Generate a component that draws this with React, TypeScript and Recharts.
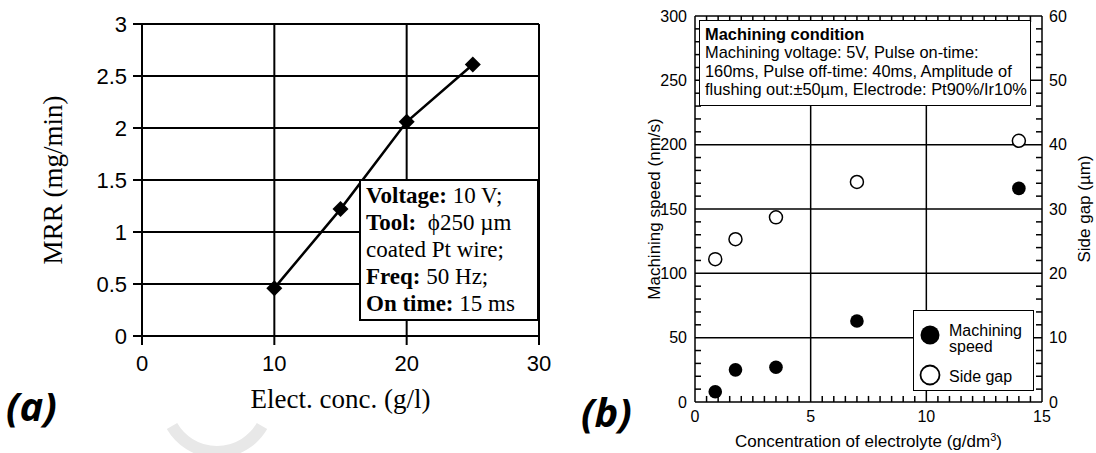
import React from "react"
import {
  LineChart,
  Line,
  XAxis,
  YAxis,
  CartesianGrid,
  ScatterChart,
  Scatter,
  ReferenceLine,
  Label,
} from "recharts"

const SANS = "'Liberation Sans', Arial, Helvetica, sans-serif"
const SERIF = "'Liberation Serif', 'Times New Roman', serif"

// (a) MRR vs electrolyte concentration
const concA = [10, 15, 20, 25]
const mrrA = [0.46, 1.22, 2.06, 2.61]
const xTicksA = [0, 10, 20, 30]
const yTicksA = [0, 0.5, 1, 1.5, 2, 2.5, 3]

// (b) machining speed and side gap vs concentration
const concB = [0.875, 1.75, 3.5, 7, 14]
const speedB = [8, 25, 27, 63, 166]
const gapB = [22.2, 25.3, 28.7, 34.2, 40.6]
const xMajorB = [0, 5, 10, 15]
const yLeftMajorB = [0, 50, 100, 150, 200, 250, 300]
const yRightMajorB = [0, 10, 20, 30, 40, 50, 60]

// minor tick positions (axis decoration only)
const steps = (max: number, step: number) =>
  Array.from({ length: Math.round(max / step) + 1 }, (_, i) => Math.round(i * step * 1000) / 1000)
const xMinorB = steps(15, 0.5).filter((v) => !xMajorB.includes(v))
const yLeftMinorB = steps(300, 10).filter((v) => !yLeftMajorB.includes(v))
const yRightMinorB = steps(60, 2).filter((v) => !yRightMajorB.includes(v))

const dataA = concA.map((c, i) => ({ conc: c, mrr: mrrA[i] }))
const speedData = concB.map((c, i) => ({ x: c, y: speedB[i] }))
const gapData = concB.map((c, i) => ({ x: c, y: gapB[i] }))

const Diamond = (p: any) => {
  const { cx, cy } = p
  if (cx == null || cy == null) return null
  const s = 8
  return (
    <polygon
      key={`d-${cx}`}
      points={`${cx},${cy - s} ${cx + s},${cy} ${cx},${cy + s} ${cx - s},${cy}`}
      fill="#000"
    />
  )
}

const vTitle = (text: React.ReactNode, x: number, font: any) => (p: any) => {
  const vb = p.viewBox || {}
  const cy = (vb.y ?? 0) + (vb.height ?? 0) / 2
  return (
    <text
      x={x}
      y={cy}
      transform={`rotate(-90 ${x} ${cy})`}
      textAnchor="middle"
      dominantBaseline="central"
      fill="#000"
      {...font}
    >
      {text}
    </text>
  )
}

const hTitle = (text: React.ReactNode, dy: number, font: any) => (p: any) => {
  const vb = p.viewBox || {}
  const cx = (vb.x ?? 0) + (vb.width ?? 0) / 2
  return (
    <text x={cx} y={(vb.y ?? 0) + dy} textAnchor="middle" fill="#000" {...font}>
      {text}
    </text>
  )
}

const axisA = { stroke: "#000", strokeWidth: 2 }
const tickA = { fill: "#000", fontSize: 22, fontFamily: SANS }
const serifTitle = { fontSize: 27, fontFamily: SERIF }
const sansTitle = { fontSize: 17, fontFamily: SANS }
const axisB = { stroke: "#000", strokeWidth: 1.5 }
const tickB = { fill: "#000", fontSize: 16, fontFamily: SANS }

// inward minor tick length (~6px), in data units of each axis
const tlX = 0.26
const tlL = 4.7
const tlR = 0.94

function PanelA() {
  return (
    <LineChart width={560} height={453} data={dataA} margin={{ top: 24, right: 21, left: 82, bottom: 87 }}>
      <CartesianGrid stroke="#000" strokeWidth={2} />
      <XAxis
        type="number"
        dataKey="conc"
        domain={[0, 30]}
        ticks={xTicksA}
        interval={0}
        height={30}
        tickSize={9}
        tickMargin={10}
        axisLine={axisA}
        tickLine={axisA}
        tick={tickA}
      >
        <Label content={hTitle("Elect. conc. (g/l)", 72, serifTitle)} />
      </XAxis>
      <YAxis
        type="number"
        domain={[0, 3]}
        ticks={yTicksA}
        interval={0}
        width={60}
        tickSize={9}
        tickMargin={6}
        axisLine={axisA}
        tickLine={axisA}
        tick={tickA}
      >
        <Label content={vTitle("MRR (mg/min)", 53, serifTitle)} />
      </YAxis>
      <Line
        dataKey="mrr"
        type="linear"
        stroke="#000"
        strokeWidth={2.5}
        dot={Diamond}
        activeDot={false}
        isAnimationActive={false}
      />
    </LineChart>
  )
}

const tickSeg = (key: string, a: any, b: any, yId: string) => (
  <ReferenceLine
    key={key}
    segment={[a, b]}
    xAxisId="bx"
    yAxisId={yId}
    stroke="#000"
    strokeWidth={1.5}
    ifOverflow="visible"
  />
)

function PanelB() {
  return (
    <ScatterChart width={536} height={453} margin={{ top: 16, right: 14, left: 75, bottom: 21 }}>
      <XAxis
        xAxisId="bx"
        type="number"
        dataKey="x"
        domain={[0, 15]}
        ticks={xMajorB}
        interval={0}
        height={30}
        tickSize={0}
        tickMargin={9}
        axisLine={axisB}
        tickLine={false}
        tick={tickB}
      >
        <Label
          content={hTitle(
            <>
              Concentration of electrolyte (g/dm<tspan dy={-6} fontSize={11}>3</tspan>
              <tspan dy={6}>)</tspan>
            </>,
            45,
            sansTitle
          )}
        />
      </XAxis>
      <YAxis
        yAxisId="left"
        type="number"
        dataKey="y"
        domain={[0, 300]}
        ticks={yLeftMajorB}
        interval={0}
        width={60}
        tickSize={0}
        tickMargin={8}
        axisLine={axisB}
        tickLine={false}
        tick={tickB}
      >
        <Label content={vTitle("Machining speed (nm/s)", 94, sansTitle)} />
      </YAxis>
      <YAxis
        yAxisId="right"
        orientation="right"
        type="number"
        dataKey="y"
        domain={[0, 60]}
        ticks={yRightMajorB}
        interval={0}
        width={40}
        tickSize={0}
        tickMargin={7}
        axisLine={axisB}
        tickLine={false}
        tick={tickB}
      >
        <Label content={vTitle("Side gap (µm)", 524, sansTitle)} />
      </YAxis>

      {/* grid at major values and top frame */}
      {xMajorB.slice(1, -1).map((v) => (
        <ReferenceLine key={`gx${v}`} x={v} xAxisId="bx" yAxisId="left" stroke="#000" strokeWidth={1.5} />
      ))}
      {yLeftMajorB.slice(1).map((v) => (
        <ReferenceLine key={`gy${v}`} y={v} xAxisId="bx" yAxisId="left" stroke="#000" strokeWidth={1.5} />
      ))}

      {/* inward minor ticks on all four sides */}
      {xMinorB.map((v) => tickSeg(`tb${v}`, { x: v, y: 0 }, { x: v, y: tlL }, "left"))}
      {xMinorB.map((v) => tickSeg(`tt${v}`, { x: v, y: 300 - tlL }, { x: v, y: 300 }, "left"))}
      {yLeftMinorB.map((v) => tickSeg(`tl${v}`, { x: 0, y: v }, { x: tlX, y: v }, "left"))}
      {yRightMinorB.map((v) => tickSeg(`tr${v}`, { x: 15 - tlX, y: v }, { x: 15, y: v }, "right"))}

      <Scatter
        name="Machining speed"
        data={speedData}
        xAxisId="bx"
        yAxisId="left"
        isAnimationActive={false}
        shape={(p: any) => <circle cx={p.cx} cy={p.cy} r={6.8} fill="#000" />}
      />
      <Scatter
        name="Side gap"
        data={gapData}
        xAxisId="bx"
        yAxisId="right"
        isAnimationActive={false}
        shape={(p: any) => <circle cx={p.cx} cy={p.cy} r={6.5} fill="#fff" stroke="#000" strokeWidth={1.5} />}
      />
    </ScatterChart>
  )
}

export default function App() {
  return (
    <div
      style={{
        position: "absolute",
        left: 0,
        top: 0,
        width: 1096,
        height: 453,
        background: "#fff",
        overflow: "hidden",
        color: "#000",
      }}
    >
      <svg width={1096} height={453} style={{ position: "absolute", left: 0, top: 0 }}>
        <path d="M 172 426 A 52 52 0 0 0 262 426" stroke="#e8e8e8" strokeWidth={12} fill="none" />
      </svg>

      <div style={{ position: "absolute", left: 0, top: 0 }}>
        <PanelA />
      </div>
      <div style={{ position: "absolute", left: 560, top: 0 }}>
        <PanelB />
      </div>

      {/* (a) process conditions */}
      <div
        style={{
          position: "absolute",
          left: 359,
          top: 179,
          width: 180,
          height: 142,
          boxSizing: "border-box",
          border: "2px solid #000",
          background: "#fff",
          fontFamily: SERIF,
          fontSize: 23,
          lineHeight: "27px",
          padding: "1px 0 0 5px",
          whiteSpace: "pre",
        }}
      >
        <div>
          <b>Voltage:</b> 10 V;
        </div>
        <div>
          <b>Tool:</b>  ϕ250 µm
        </div>
        <div>coated Pt wire;</div>
        <div>
          <b>Freq:</b> 50 Hz;
        </div>
        <div>
          <b>On time:</b> 15 ms
        </div>
      </div>

      {/* (b) machining condition */}
      <div
        style={{
          position: "absolute",
          left: 699,
          top: 20,
          width: 332,
          height: 86,
          boxSizing: "border-box",
          border: "1.5px solid #000",
          background: "#fff",
          fontFamily: SANS,
          fontSize: 16.4,
          lineHeight: "18.3px",
          padding: "4px 0 0 5px",
          whiteSpace: "pre",
        }}
      >
        <div style={{ fontWeight: 700 }}>Machining condition</div>
        <div>Machining voltage: 5V, Pulse on-time:</div>
        <div>160ms, Pulse off-time: 40ms, Amplitude of</div>
        <div>flushing out:±50µm, Electrode: Pt90%/Ir10%</div>
      </div>

      {/* (b) legend */}
      <div
        style={{
          position: "absolute",
          left: 913,
          top: 310,
          width: 121,
          height: 81,
          boxSizing: "border-box",
          border: "1.5px solid #000",
          background: "#fff",
          fontFamily: SANS,
          fontSize: 16,
        }}
      >
        <svg width={121} height={81} style={{ position: "absolute", left: -1.5, top: -1.5 }}>
          <circle cx={17} cy={25} r={9.5} fill="#000" />
          <circle cx={17} cy={65} r={9.5} fill="#fff" stroke="#000" strokeWidth={1.8} />
        </svg>
        <div style={{ position: "absolute", left: 35, top: 12, lineHeight: "16px" }}>
          Machining
          <br />
          speed
        </div>
        <div style={{ position: "absolute", left: 35, top: 58, lineHeight: "16px" }}>Side gap</div>
      </div>

      {/* panel tags */}
      <div
        style={{
          position: "absolute",
          left: 6,
          top: 386,
          fontFamily: "'Open Sans', sans-serif",
          fontWeight: 700,
          fontStyle: "italic",
          fontSize: 40,
          lineHeight: "40px",
        }}
      >
        (a)
      </div>
      <div
        style={{
          position: "absolute",
          left: 581,
          top: 392,
          fontFamily: "'Open Sans', sans-serif",
          fontWeight: 700,
          fontStyle: "italic",
          fontSize: 40,
          lineHeight: "40px",
        }}
      >
        (b)
      </div>
    </div>
  )
}
